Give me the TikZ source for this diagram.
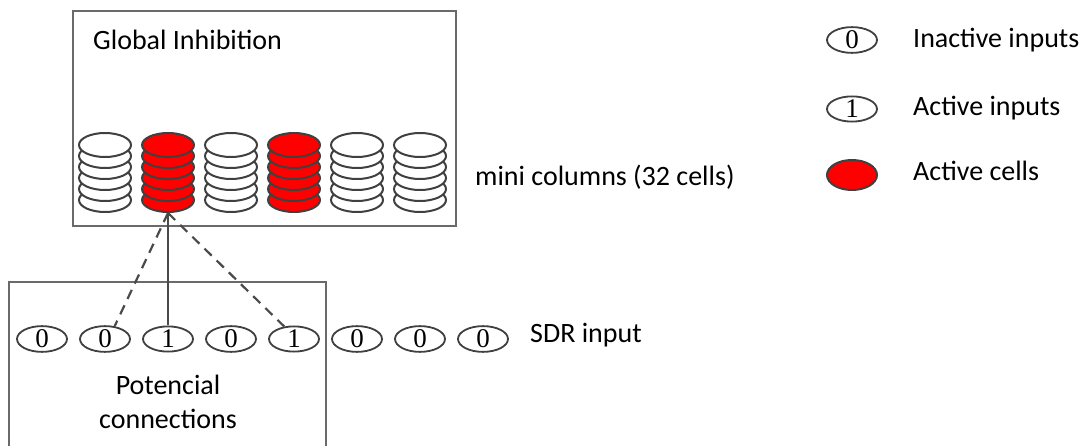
\documentclass[tikz,border=0pt]{standalone}
\usepackage{fontspec}
\setmainfont{Carlito}
\newfontfamily\digitfont{Liberation Serif}
\usetikzlibrary{shapes.geometric}
\definecolor{boxgray}{HTML}{6A6A6A}
\definecolor{cellgray}{HTML}{404040}
\definecolor{linegray}{HTML}{4A4A4A}
\definecolor{activered}{HTML}{FF0000}
\begin{document}
\begin{tikzpicture}[x=1pt,y=-1pt,
  frame/.style={draw=boxgray, line width=2pt},
  cell/.style={ellipse, draw=cellgray, line width=2pt, minimum width=52pt,
    minimum height=24pt, inner sep=0pt, fill=white},
  oncell/.style={cell, fill=activered},
  bit/.style={ellipse, draw=cellgray, line width=1.8pt, minimum width=50pt,
    minimum height=22pt, inner sep=0pt, fill=white,
    font=\digitfont\fontsize{27}{27}\selectfont},
  label/.style={font=\fontsize{28}{34}\selectfont, inner sep=0pt, text=black},
  link/.style={draw=linegray, line width=2.2pt},
  dashlink/.style={link, dash pattern=on 10pt off 7pt}]
\useasboundingbox (0,0) rectangle (1090,446);

% global inhibition layer
\node[frame, rectangle, minimum width=383pt, minimum height=215pt, inner sep=0pt,
  anchor=north west] (gi) at (72,10) {};
\node[label, anchor=base west] (gitext) at (93,50) {Global Inhibition};

% mini columns, each a stack of six cells drawn bottom-up
\foreach \i/\st in {1/cell,2/oncell,3/cell,4/oncell,5/cell,6/cell}{
  \foreach \j in {6,5,4,3,2,1}{
    \node[\st] (col\i-\j) at ({42+63*\i},{145+11*(\j-1)}) {};
  }
}
\node[label, anchor=base west] (mctext) at (475,186) {mini columns (32 cells)};

% input region
\coordinate (pbl) at (9,446);
\coordinate (ptl) at (9,282);
\coordinate (ptr) at (326,282);
\coordinate (pbr) at (326,446);
\draw[frame] (pbl) -- (ptl) -- (ptr) -- (pbr);

% SDR input bits
\foreach \k/\b in {1/0,2/0,3/1,4/0,5/1,6/0,7/0,8/0}{
  \node[bit] (s\k) at ({42+63*(\k-1)},339) {\b};
}
\node[label, anchor=base west] (sdrtext) at (530,343) {SDR input};
\node[label, align=center, anchor=base] (pctext) at (168,428)
  {Potencial\\connections};

% potential connections of the active column
\draw[link] (col2-6.south) -- (s3.north);
\draw[dashlink] (col2-6.south) -- (s2.53);
\draw[dashlink] (col2-6.south) -- (s5.128);

% legend
\node[bit] (lg0) at (852,40) {0};
\node[label, anchor=west] (lg0t) at (913,40) {Inactive inputs};
\node[bit] (lg1) at (852,109) {1};
\node[label, anchor=west] (lg1t) at (913,108) {Active inputs};
\node[cell, fill=activered, minimum width=50pt, minimum height=30pt] (lg2) at (852,175) {};
\node[label, anchor=west] (lg2t) at (913,171) {Active cells};
\end{tikzpicture}
\end{document}
